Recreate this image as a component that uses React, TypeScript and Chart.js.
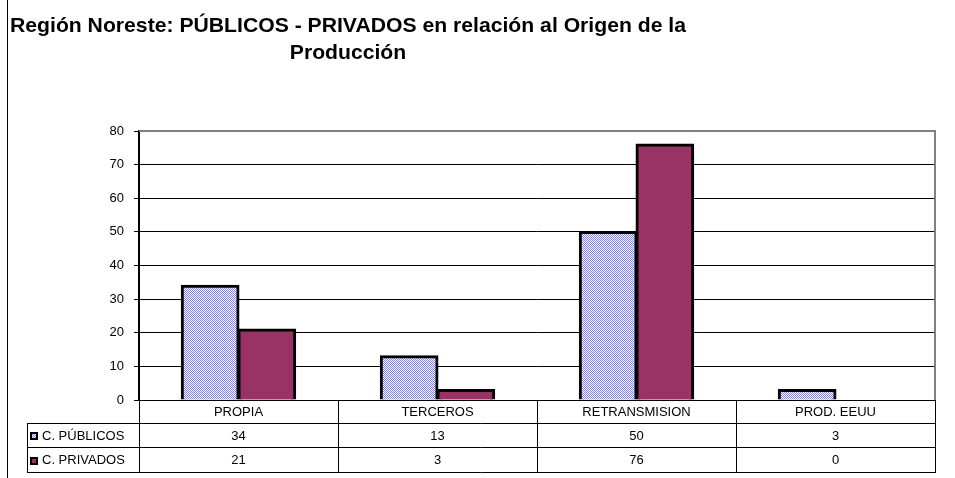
import React, { useEffect, useRef } from "react";
import { Chart, registerables } from "chart.js";

Chart.register(...registerables);

const categories = ["PROPIA", "TERCEROS", "RETRANSMISION", "PROD. EEUU"];
const seriesNames = ["C. PÚBLICOS", "C. PRIVADOS"];
const publicos = [34, 13, 50, 3];
const privados = [21, 3, 76, 0];
const yMin = 0;
const yMax = 80;
const yStep = 10;
const titleLines = [
  "Región Noreste: PÚBLICOS - PRIVADOS en relación al Origen de la",
  "Producción",
];

const FONT = "'Liberation Sans', Arial, sans-serif";
const MAROON = "#993366";
const CHECK_BLUE = "#8080FF";

function makePattern(): CanvasPattern | string {
  const c = document.createElement("canvas");
  c.width = 2;
  c.height = 2;
  const g = c.getContext("2d");
  if (!g) return CHECK_BLUE;
  g.fillStyle = "#FFFFFF";
  g.fillRect(0, 0, 2, 2);
  g.fillStyle = CHECK_BLUE;
  g.fillRect(0, 0, 1, 1);
  g.fillRect(1, 1, 1, 1);
  const p = g.createPattern(c, "repeat");
  return p || CHECK_BLUE;
}

export default function App() {
  const ref = useRef<HTMLCanvasElement | null>(null);

  useEffect(() => {
    if (!ref.current) return;
    const pattern = makePattern();

    const decor = {
      id: "decor",
      afterDraw(chart: any) {
        const ctx: CanvasRenderingContext2D = chart.ctx;
        const area = chart.chartArea;
        const xs = chart.scales.x;
        ctx.save();

        // outer frame left line
        ctx.strokeStyle = "#000";
        ctx.lineWidth = 1;
        ctx.beginPath();
        ctx.moveTo(7.5, 0);
        ctx.lineTo(7.5, chart.height);
        ctx.stroke();

        // title
        ctx.fillStyle = "#000";
        ctx.font = `bold 21px ${FONT}`;
        ctx.textAlign = "center";
        ctx.textBaseline = "alphabetic";
        const w0 = ctx.measureText(titleLines[0]).width;
        const sx = 676 / w0;
        const cx = 348;
        const baselines = [32, 59];
        titleLines.forEach((line, i) => {
          ctx.save();
          ctx.translate(cx, baselines[i]);
          ctx.scale(sx, 1);
          ctx.fillText(line, 0, 0);
          ctx.restore();
        });

        // plot border top & right (gray)
        ctx.strokeStyle = "#808080";
        ctx.lineWidth = 2;
        ctx.beginPath();
        ctx.moveTo(area.left, area.top);
        ctx.lineTo(area.right, area.top);
        ctx.lineTo(area.right, area.bottom);
        ctx.stroke();

        // data table
        const n = categories.length;
        const cw = (area.right - area.left) / n;
        const bounds: number[] = [];
        for (let i = 0; i < n; i++) bounds.push(xs.getPixelForValue(i) - cw / 2);
        bounds.push(xs.getPixelForValue(n - 1) + cw / 2);
        const r0 = area.bottom;
        const r1 = 423;
        const r2 = 447;
        const r3 = 472;
        const tableLeft = 27;

        ctx.strokeStyle = "#000";
        ctx.lineWidth = 1;
        ctx.beginPath();
        bounds.forEach((b, i) => {
          const x = Math.round(b) + 0.5;
          ctx.moveTo(x, i === 0 ? r0 + 1 : r0);
          ctx.lineTo(x, r3 + 0.5);
        });
        [r1, r2, r3].forEach((y) => {
          ctx.moveTo(tableLeft, y + 0.5);
          ctx.lineTo(Math.round(bounds[n]) + 1, y + 0.5);
        });
        ctx.moveTo(tableLeft + 0.5, r1);
        ctx.lineTo(tableLeft + 0.5, r3 + 1);
        ctx.stroke();

        ctx.font = `13px ${FONT}`;
        ctx.fillStyle = "#000";
        ctx.textAlign = "center";
        ctx.textBaseline = "middle";
        const rowsY = [(r0 + r1) / 2 + 1, (r1 + r2) / 2 + 1, (r2 + r3) / 2 + 1];
        categories.forEach((c, i) => {
          const x = xs.getPixelForValue(i);
          ctx.fillText(c, x, rowsY[0]);
          ctx.fillText(String(publicos[i]), x, rowsY[1]);
          ctx.fillText(String(privados[i]), x, rowsY[2]);
        });

        // legend keys
        const fills = [pattern, MAROON];
        seriesNames.forEach((name, i) => {
          const y = rowsY[i + 1];
          const bx = 30;
          const by = Math.round(y - 4);
          ctx.fillStyle = "#000";
          ctx.fillRect(bx, by, 8, 8);
          ctx.fillStyle = fills[i] as any;
          ctx.fillRect(bx + 2, by + 2, 4, 4);
          ctx.fillStyle = "#000";
          ctx.textAlign = "left";
          ctx.fillText(name, 42, y);
        });

        ctx.restore();
      },
    };

    const chart = new Chart(ref.current, {
      type: "bar",
      data: {
        labels: categories,
        datasets: [
          {
            label: seriesNames[0],
            data: publicos,
            backgroundColor: pattern as any,
            borderColor: "#000",
            borderWidth: 3,
            borderSkipped: "start",
            inflateAmount: 1,
          },
          {
            label: seriesNames[1],
            data: privados,
            backgroundColor: MAROON,
            borderColor: "#000",
            borderWidth: 3,
            borderSkipped: "start",
            inflateAmount: 1,
          },
        ],
      },
      options: {
        animation: false,
        responsive: false,
        devicePixelRatio: 1,
        layout: { padding: { left: 0, right: 20, top: 131, bottom: 78 } },
        datasets: { bar: { categoryPercentage: 0.57, barPercentage: 1.0 } },
        plugins: {
          legend: { display: false },
          title: { display: false },
          tooltip: { enabled: false },
        },
        scales: {
          x: {
            display: false,
          },
          y: {
            min: yMin,
            max: yMax,
            ticks: {
              stepSize: yStep,
              color: "#000",
              padding: 10,
              font: { family: FONT, size: 13 },
            },
            grid: {
              color: (c: any) => (c.tick && c.tick.value === yMax ? "#808080" : "#000"),
              tickColor: "#000",
              tickLength: 5,
              lineWidth: 1,
            },
            border: { color: "#000", width: 2 },
            afterFit: (scale: any) => {
              scale.width = 139;
            },
          },
        },
      } as any,
      plugins: [decor],
    });
    return () => chart.destroy();
  }, []);

  return (
    <div style={{ position: "absolute", left: 0, top: 0, width: 955, height: 478, background: "#fff" }}>
      <canvas ref={ref} width={955} height={478} style={{ display: "block" }} />
    </div>
  );
}
